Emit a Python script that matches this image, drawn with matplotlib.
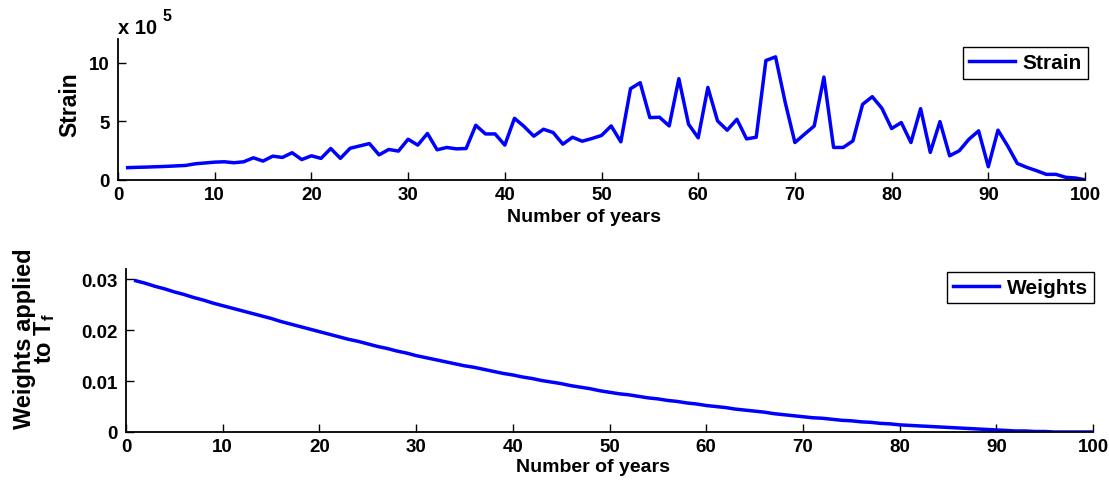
import numpy as np
import matplotlib
matplotlib.use("Agg")
import matplotlib.pyplot as plt
from matplotlib.ticker import FuncFormatter

# =========================================================
# DATA
# =========================================================
years = list(range(1, 101))

STRAIN_SCALE = 1e5
strain_x1e5 = [
    1.05, 1.08, 1.10, 1.13, 1.16, 1.20, 1.24, 1.38, 1.45, 1.52,
    1.55, 1.47, 1.55, 1.89, 1.61, 2.03, 1.92, 2.32, 1.74, 2.06,
    1.84, 2.68, 1.84, 2.70, 2.90, 3.10, 2.14, 2.60, 2.46, 3.47,
    2.97, 3.96, 2.57, 2.77, 2.65, 2.68, 4.66, 3.92, 3.92, 2.97,
    5.25, 4.55, 3.73, 4.32, 4.04, 3.05, 3.64, 3.30, 3.53, 3.79,
    4.60, 3.25, 7.77, 8.28, 5.31, 5.34, 4.60, 8.62, 4.75, 3.59,
    7.88, 5.03, 4.24, 5.17, 3.50, 3.64, 10.17, 10.48, 6.60, 3.19,
    3.90, 4.60, 8.76, 2.77, 2.77, 3.33, 6.44, 7.09, 6.10, 4.38,
    4.89, 3.19, 6.07, 2.35, 4.97, 2.06, 2.49, 3.47, 4.18, 1.13,
    4.24, 2.90, 1.41, 1.07, 0.79, 0.48, 0.48, 0.23, 0.17, 0.02,
]

weights = [
    0.0297, 0.0292, 0.0286, 0.0281, 0.0275, 0.0270, 0.0264, 0.0259, 0.0253, 0.0248,
    0.0243, 0.0238, 0.0233, 0.0228, 0.0223, 0.0217, 0.0212, 0.0207, 0.0202, 0.0197,
    0.0192, 0.0187, 0.0182, 0.0178, 0.0173, 0.0168, 0.0164, 0.0159, 0.0155, 0.0150,
    0.0146, 0.0142, 0.0138, 0.0134, 0.0130, 0.0127, 0.0123, 0.0119, 0.0115, 0.0112,
    0.0108, 0.0105, 0.0101, 0.0098, 0.0095, 0.0091, 0.0088, 0.0085, 0.0081, 0.0078,
    0.0075, 0.0073, 0.0070, 0.0067, 0.0065, 0.0062, 0.0060, 0.0057, 0.0055, 0.0052,
    0.0050, 0.0048, 0.0045, 0.0043, 0.0041, 0.0039, 0.0036, 0.0034, 0.0032, 0.0030,
    0.0028, 0.0027, 0.0025, 0.0023, 0.0022, 0.0020, 0.0019, 0.0017, 0.0016, 0.0014,
    0.0013, 0.0012, 0.0011, 0.0010, 0.0009, 0.0008, 0.0007, 0.0006, 0.0005, 0.0004,
    0.0003, 0.0002, 0.0002, 0.0001, 0.0001, 0.0000, 0.0000, 0.0000, 0.0000, 0.0000,
]

x_ticks = list(range(0, 101, 10))
strain_ticks = [0, 5, 10]
weight_ticks = [0, 0.01, 0.02, 0.03]

# =========================================================
# STYLE
# =========================================================
plt.rcParams["font.family"] = ["Liberation Sans", "DejaVu Sans"]
plt.rcParams["font.weight"] = "bold"
plt.rcParams["mathtext.fontset"] = "custom"
plt.rcParams["mathtext.rm"] = "Liberation Sans:bold"
plt.rcParams["mathtext.bf"] = "Liberation Sans:bold"
plt.rcParams["mathtext.it"] = "Liberation Sans:bold"

LINE_COLOR = "#0000ff"
TICK_FS = 13.5
XLABEL_FS = 14
YLABEL_FS = 16.5
LEGEND_FS = 15


def style_axes(ax):
    for side in ["top", "right"]:
        ax.spines[side].set_visible(False)
    for side in ["left", "bottom"]:
        ax.spines[side].set_linewidth(1.3)
    ax.tick_params(direction="in", length=6, width=1.0, labelsize=TICK_FS)
    ax.tick_params(axis="x", pad=4)
    ax.tick_params(axis="y", pad=6)
    for lab in ax.get_xticklabels() + ax.get_yticklabels():
        lab.set_fontweight("bold")


def add_legend(ax, anchor):
    leg = ax.legend(
        loc="upper right", bbox_to_anchor=anchor, fancybox=False,
        edgecolor="black", framealpha=1, handlelength=2.2,
        handletextpad=0.35, borderpad=0.3, borderaxespad=0,
        prop={"size": LEGEND_FS, "weight": "bold"},
    )
    leg.get_frame().set_linewidth(1.0)


fig = plt.figure(figsize=(11.09, 4.81), dpi=100)
W, H = 1109.0, 481.0

# top panel: pixel box 118..1085 x 40..181
ax1 = fig.add_axes([118 / W, 1 - 181 / H, 967 / W, 141 / H])
# bottom panel: pixel box 126..1093 x 270..433
ax2 = fig.add_axes([126 / W, 1 - 433 / H, 967 / W, 163 / H])

# =========================================================
# TOP: STRAIN
# =========================================================
strain = np.array(strain_x1e5) * STRAIN_SCALE
ax1.plot(years, strain, color=LINE_COLOR, linewidth=2.5, label="Strain")
ax1.set_xlim(0, 100)
ax1.set_ylim(0, 12 * STRAIN_SCALE)
ax1.set_xticks(x_ticks)
ax1.set_yticks([t * STRAIN_SCALE for t in strain_ticks])
ax1.yaxis.set_major_formatter(FuncFormatter(lambda v, p: f"{v / STRAIN_SCALE:g}"))
style_axes(ax1)
ax1.set_xlabel("Number of years", fontsize=XLABEL_FS, fontweight="bold")
ax1.xaxis.set_label_coords(0.482, -0.2)
ax1.set_ylabel("Strain", fontsize=YLABEL_FS, fontweight="bold")
ax1.yaxis.set_label_coords(-0.038, 0.54)
# MATLAB-style exponent note above the y axis
ax1.text(0.0, 1.045, "x 10", transform=ax1.transAxes, fontsize=14.5,
         fontweight="bold", ha="left", va="baseline")
ax1.text(0.046, 1.135, "5", transform=ax1.transAxes, fontsize=11.5,
         fontweight="bold", ha="left", va="baseline")
add_legend(ax1, (1.003, 0.943))

# =========================================================
# BOTTOM: WEIGHTS
# =========================================================
ax2.plot(years, weights, color=LINE_COLOR, linewidth=2.5, label="Weights")
ax2.set_xlim(0, 100)
ax2.set_ylim(0, 0.032)
ax2.set_xticks(x_ticks)
ax2.set_yticks(weight_ticks)
ax2.yaxis.set_major_formatter(FuncFormatter(lambda v, p: f"{v:g}"))
style_axes(ax2)
ax2.set_xlabel("Number of years", fontsize=XLABEL_FS, fontweight="bold")
ax2.xaxis.set_label_coords(0.483, -0.16)
ax2.set_ylabel("Weights applied\nto T$_{\\mathbf{f}}$", fontsize=17,
               fontweight="bold", linespacing=0.8)
ax2.yaxis.set_label_coords(-0.071, 0.58)
add_legend(ax2, (1.001, 0.982))

fig.savefig("out.png", dpi=100)
